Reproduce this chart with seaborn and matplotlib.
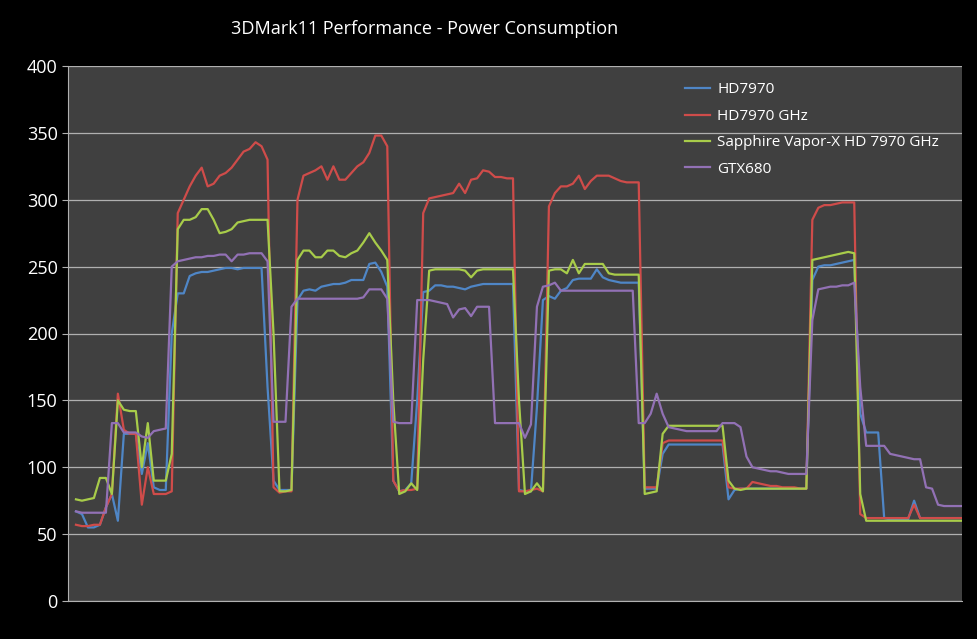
import matplotlib
matplotlib.use("Agg")
import matplotlib.pyplot as plt
import matplotlib.patches as mpatches
import seaborn as sns
import pandas as pd

series_names = ["HD7970", "HD7970 GHz", "Sapphire Vapor-X HD 7970 GHz", "GTX680"]
colors = ["#4f86c6", "#cf4c4a", "#a8cc4a", "#9271b5"]

hd7970 = [67,65,55,55,57,70,80,60,125,125,
 125,95,118,85,83,83,200,230,230,243,
 245,246,246,247,248,249,249,248,249,249,
 249,249,160,90,83,83,83,225,232,233,
 232,235,236,237,237,238,240,240,240,252,
 253,246,235,90,82,83,88,150,231,232,
 236,236,235,235,234,233,235,236,237,237,
 237,237,237,237,83,82,82,145,225,228,
 226,232,234,240,241,241,241,248,242,240,
 239,238,238,238,238,84,84,84,110,117,
 117,117,117,117,117,117,117,117,117,76,
 83,84,84,84,84,84,84,84,84,84,
 84,84,84,240,250,251,251,252,253,254,
 255,140,126,126,126,62,61,61,61,61,
 75,62,62,62,62,62,62,62,62]

hd7970_ghz = [57,56,56,57,57,70,80,155,128,125,
 125,72,100,80,80,80,82,290,300,310,
 318,324,310,312,318,320,324,330,336,338,
 343,340,330,85,81,82,82,300,318,320,
 322,325,315,325,315,315,320,325,328,335,
 348,348,340,90,82,83,83,84,290,301,
 302,303,304,305,312,305,315,316,322,321,
 317,317,316,316,82,82,83,84,82,295,
 305,310,310,312,318,308,314,318,318,318,
 316,314,313,313,313,85,85,85,118,120,
 120,120,120,120,120,120,120,120,120,85,
 84,84,84,89,88,87,86,86,85,85,
 85,84,84,285,294,296,296,297,298,298,
 298,65,62,62,62,62,62,62,62,62,
 72,62,62,62,62,62,62,62,62]

sapphire = [76,75,76,77,92,92,80,150,143,142,
 142,100,133,90,90,90,110,278,285,285,
 287,293,293,285,275,276,278,283,284,285,
 285,285,285,200,82,82,83,255,262,262,
 257,257,262,262,258,257,260,262,268,275,
 268,262,255,150,80,82,88,83,180,247,
 248,248,248,248,248,247,242,247,248,248,
 248,248,248,248,150,80,82,88,82,247,
 248,248,245,255,245,252,252,252,252,245,
 244,244,244,244,244,80,81,82,125,131,
 131,131,131,131,131,131,131,131,131,90,
 84,83,84,84,84,84,84,84,84,84,
 84,84,84,255,256,257,258,259,260,261,
 260,80,60,60,60,60,60,60,60,60,
 60,60,60,60,60,60,60,60,60]

gtx680 = [67,66,66,66,66,66,133,133,126,126,
 126,123,122,127,128,129,250,254,255,256,
 257,257,258,258,259,259,254,259,259,260,
 260,260,254,134,134,134,220,226,226,226,
 226,226,226,226,226,226,226,226,227,233,
 233,233,226,134,133,133,133,225,225,225,
 224,223,222,212,218,219,213,220,220,220,
 133,133,133,133,133,122,132,220,235,236,
 238,232,232,232,232,232,232,232,232,232,
 232,232,232,232,133,133,140,155,140,130,
 129,128,127,127,127,127,127,127,133,133,
 133,130,108,100,99,98,97,97,96,95,
 95,95,95,210,233,234,235,235,236,236,
 238,160,116,116,116,116,110,109,108,107,
 106,106,85,84,72,71,71,71,71]

y_ticks = [0, 50, 100, 150, 200, 250, 300, 350, 400]
title = "3DMark11 Performance - Power Consumption"

rows = []
for name, vals in zip(series_names, [hd7970, hd7970_ghz, sapphire, gtx680]):
    for i, v in enumerate(vals):
        rows.append({"sample": i, "power": v, "card": name})
df = pd.DataFrame(rows)

fig = plt.figure(figsize=(9.77, 6.39), dpi=100, facecolor="black")
ax = fig.add_axes([68/977, 38/639, 894/977, 535/639])
ax.set_facecolor("#404040")
sns.lineplot(data=df, x="sample", y="power", hue="card", hue_order=series_names,
             palette=colors, linewidth=1.6, ax=ax)
ax.set_ylim(0, 400)
ax.set_yticks(y_ticks)
ax.set_yticklabels([str(t) for t in y_ticks], color="white", fontsize=13, fontfamily="Open Sans")
ax.set_xticks([])
ax.grid(axis="y", color="#b0b0b0", linewidth=0.9)
ax.set_axisbelow(True)
ax.tick_params(axis="y", length=4, color="#b0b0b0")
for s in ["top", "right"]:
    ax.spines[s].set_visible(False)
ax.spines["left"].set_color("#b0b0b0")
ax.spines["bottom"].set_color("#b0b0b0")
ax.set_xlabel("")
ax.set_ylabel("")
leg = ax.legend(loc="upper left", bbox_to_anchor=(0.675, 0.995), frameon=False,
                fontsize=11, handlelength=1.6, handletextpad=0.5, labelspacing=0.75)
for t in leg.get_texts():
    t.set_color("white")
    t.set_fontfamily("Open Sans")
fig.text(425/977, 1 - 29/639, title, color="white", fontsize=13,
         fontfamily="Open Sans", ha="center", va="center")
ax.set_xlim(-1.33, 148)
ax.set_xbound(-1.33, 148)
fig.add_artist(mpatches.Rectangle((963/977, 0), 14/977, 1, transform=fig.transFigure,
                                  facecolor="black", edgecolor="none", zorder=10))
fig.savefig("out.png", dpi=100, facecolor="black")
